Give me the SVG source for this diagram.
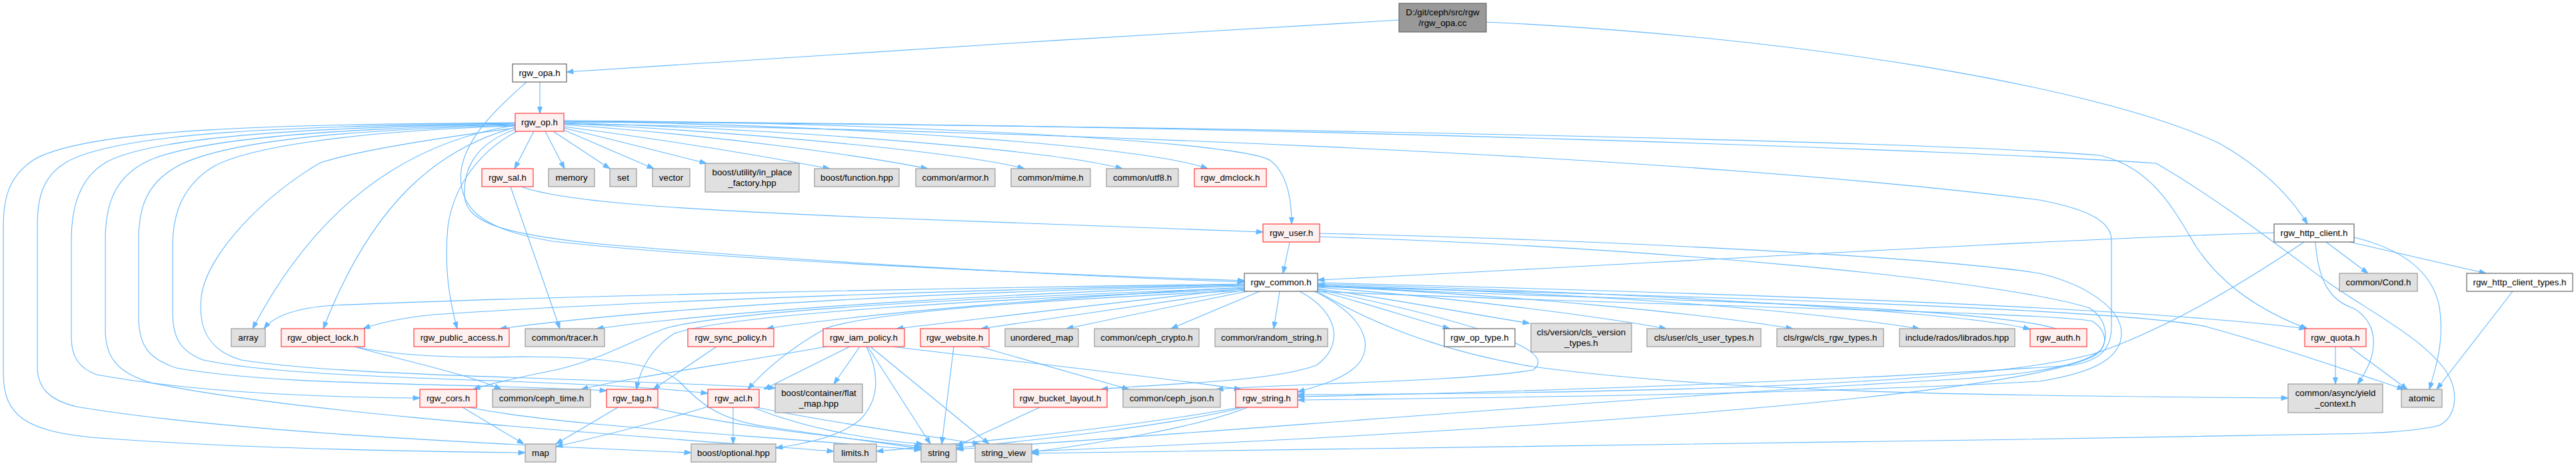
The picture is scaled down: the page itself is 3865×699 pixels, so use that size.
<svg xmlns="http://www.w3.org/2000/svg" width="3865" height="699" viewBox="0 0 3865 699">
<defs>
<marker id="ah" viewBox="0 0 11 8" refX="10.5" refY="4" markerWidth="11" markerHeight="8" markerUnits="userSpaceOnUse" orient="auto">
<path d="M0.5,0.5 L10.5,4 L0.5,7.5 z" fill="#63b8ff" stroke="#63b8ff"/>
</marker>
<style>
.e{fill:none;stroke:#63b8ff;stroke-width:1.1;marker-end:url(#ah)}
.ng rect{fill:#e0e0e0;stroke:#999999;stroke-width:1.2}
.nr rect{fill:#fff0f0;stroke:#ff3b3b;stroke-width:1.2}
.nw rect{fill:#ffffff;stroke:#666666;stroke-width:1.2}
.nroot rect{fill:#999999;stroke:#666666;stroke-width:1.2}
text{font-family:"Liberation Sans",Arial,sans-serif;font-size:13.33px;text-anchor:middle;fill:#000000}
</style>
</defs>
<rect x="0" y="0" width="3865" height="699" fill="#ffffff"/>
<g id="edges">
<path class="e" d="M2099,30 C1700,52 1200,85 850,108"/>
<path class="e" d="M2230,33 C2700,55 3150,130 3330,215 C3400,255 3440,300 3462,336"/>
<path class="e" d="M810,123 L810,170"/>
<path class="e" d="M790,123 C760,150 700,200 692,255 C686,310 720,345 830,362 C1100,392 1600,412 1867,421"/>
<path class="e" d="M801,197 L772,253"/>
<path class="e" d="M818,197 L847,253"/>
<path class="e" d="M830,197 L915,253"/>
<path class="e" d="M846,195 L981,253"/>
<path class="e" d="M846,192 C930,212 1000,230 1060,245"/>
<path class="e" d="M846,190 C1000,210 1150,235 1245,253"/>
<path class="e" d="M846,187 C1100,205 1300,235 1392,253"/>
<path class="e" d="M846,185 C1150,200 1450,230 1537,253"/>
<path class="e" d="M846,184 C1200,195 1580,225 1684,253"/>
<path class="e" d="M846,182 C1300,188 1720,220 1812,253"/>
<path class="e" d="M846,181 C1300,183 1850,210 1905,240 C1932,260 1938,300 1938,336"/>
<path class="e" d="M773,194 C715,215 695,250 697,295 C700,335 760,352 900,366 C1200,392 1600,414 1867,423"/>
<path class="e" d="M773,188 C620,212 480,300 379,493"/>
<path class="e" d="M773,191 C660,222 560,300 485,493"/>
<path class="e" d="M776,197 C720,225 680,280 672,340 C666,400 674,450 686,493"/>
<path class="e" d="M773,184 C420,187 130,192 50,240 C12,265 5,300 5,340 L5,560 C5,625 40,648 150,657 C350,672 600,677 788,679"/>
<path class="e" d="M773,185 C440,189 180,198 100,243 C62,265 56,300 56,340 L56,550 C56,580 72,600 115,610 C320,645 700,665 1037,679"/>
<path class="e" d="M773,186 C460,191 230,205 160,243 C115,268 107,320 107,360 L107,505 C107,535 118,552 145,562 C300,590 500,596 630,597"/>
<path class="e" d="M773,187 C480,193 280,210 215,245 C165,272 158,320 158,360 L158,495 C158,535 175,560 230,575 C450,620 900,650 1251,677"/>
<path class="e" d="M773,188 C500,195 330,214 265,250 C215,278 208,320 208,360 L208,475 C208,518 222,538 265,552 C420,580 700,574 910,586"/>
<path class="e" d="M773,189 C520,197 370,222 320,250 C268,282 259,330 259,370 L259,470 C259,505 270,527 305,540 C460,573 850,566 1062,590"/>
<path class="e" d="M773,192 C650,208 540,225 481,244 C400,290 310,380 302,445 C296,500 320,528 362,540 C520,565 850,565 1163,582"/>
<path class="e" d="M846,183 C1800,188 2900,212 3150,233 C3230,250 3265,320 3295,370 C3335,430 3395,468 3462,493"/>
<path class="e" d="M846,182 C1900,186 3000,228 3235,245 C3330,300 3420,370 3495,425 C3560,470 3640,510 3672,560 C3690,590 3685,625 3660,638 C3620,648 3560,650 3500,651 C2800,664 2000,674 1548,680"/>
<path class="e" d="M846,186 C1500,195 2500,230 3060,300 C3140,315 3168,335 3168,360 L3168,490 C3168,525 3150,540 3110,548 C2700,575 2200,590 1947,595"/>
<path class="e" d="M782,280 C850,305 1050,315 1300,326 C1600,338 1800,345 1895,348"/>
<path class="e" d="M766,280 L840,493"/>
<path class="e" d="M1935,363 L1925,410"/>
<path class="e" d="M1980,350 C2400,360 2900,385 3060,410 C3135,428 3183,465 3183,500 C3183,540 3135,560 3060,572 C2700,592 2200,597 1947,600"/>
<path class="e" d="M1980,355 C2500,372 3000,420 3135,462 C3160,478 3165,505 3152,525 C3120,555 3000,566 2880,572 C2400,600 1800,650 1435,674"/>
<path class="e" d="M3412,349 C3000,362 2400,400 1977,420"/>
<path class="e" d="M3490,363 L3553,410"/>
<path class="e" d="M3525,363 C3600,380 3680,398 3730,410"/>
<path class="e" d="M3532,356 C3610,375 3650,410 3660,460 C3668,510 3655,550 3645,584"/>
<path class="e" d="M3474,363 C3478,420 3495,450 3530,462 C3565,480 3575,525 3537,576"/>
<path class="e" d="M3457,363 C3350,435 3250,492 3150,528 C3000,575 2500,590 1947,592"/>
<path class="e" d="M3770,437 L3656,584"/>
<path class="e" d="M1867,426 C1400,432 800,445 500,458 C440,462 410,475 396,493"/>
<path class="e" d="M1867,427 C1400,435 900,455 650,472 C600,477 570,484 545,493"/>
<path class="e" d="M1867,428 C1400,438 1000,460 750,493"/>
<path class="e" d="M1867,429 C1500,440 1100,465 895,493"/>
<path class="e" d="M1867,431 C1600,445 1300,470 1150,493"/>
<path class="e" d="M1868,433 C1700,450 1500,475 1345,493"/>
<path class="e" d="M1870,435 C1750,452 1600,475 1472,493"/>
<path class="e" d="M1872,437 C1780,455 1700,472 1600,493"/>
<path class="e" d="M1890,437 L1757,493"/>
<path class="e" d="M1920,437 L1911,493"/>
<path class="e" d="M1977,436 C2050,455 2120,478 2175,493"/>
<path class="e" d="M1977,433 C2100,450 2200,470 2295,485"/>
<path class="e" d="M1977,431 C2200,448 2400,475 2500,493"/>
<path class="e" d="M1977,429 C2300,445 2550,470 2690,493"/>
<path class="e" d="M1977,428 C2400,440 2700,465 2880,493"/>
<path class="e" d="M1977,426 C2500,440 2960,470 3046,494"/>
<path class="e" d="M1977,424 C2600,440 3200,460 3460,493"/>
<path class="e" d="M1977,430 C2600,445 3200,465 3310,490 C3420,520 3520,555 3607,584"/>
<path class="e" d="M1976,437 C2050,480 2150,525 2300,550 C2600,590 3000,594 3433,597"/>
<path class="e" d="M1867,432 C1500,445 1100,465 1000,492 C950,510 900,540 833,555 C780,566 740,574 710,584"/>
<path class="e" d="M1869,434 C1500,448 1100,470 1012,500 C980,520 960,552 955,584"/>
<path class="e" d="M1870,436 C1500,452 1300,472 1240,492 C1190,520 1150,552 1122,584"/>
<path class="e" d="M1950,437 C2012,470 2015,520 1975,548 C1900,575 1720,576 1652,584"/>
<path class="e" d="M1972,437 C2060,480 2062,530 2028,555 C2005,572 1975,580 1947,588"/>
<path class="e" d="M1977,437 C2500,460 3080,468 3140,482 C3165,500 3162,522 3140,535 C3000,600 2200,650 1548,677"/>
<path class="e" d="M1977,434 C2150,470 2350,520 2300,555 C2200,572 1950,575 1825,584"/>
<path class="e" d="M1240,520 C1100,545 950,565 872,584"/>
<path class="e" d="M1275,520 L1146,584"/>
<path class="e" d="M1290,520 L1251,576"/>
<path class="e" d="M1300,520 C1320,560 1320,600 1290,630 C1260,655 1210,665 1164,672"/>
<path class="e" d="M1302,520 L1396,666"/>
<path class="e" d="M1306,520 L1484,666"/>
<path class="e" d="M1340,520 C1500,540 1700,560 1862,584"/>
<path class="e" d="M1431,520 L1413,666"/>
<path class="e" d="M1470,520 L1694,584"/>
<path class="e" d="M1075,520 L980,584"/>
<path class="e" d="M532,520 C600,540 700,560 752,584"/>
<path class="e" d="M532,520 C600,535 700,537 780,535 C900,535 990,545 1020,573 C1050,605 1080,630 1150,640 C1250,655 1330,665 1382,673"/>
<path class="e" d="M694,611 L786,666"/>
<path class="e" d="M703,611 C850,640 1100,650 1382,675"/>
<path class="e" d="M927,611 L834,666"/>
<path class="e" d="M978,611 C1100,640 1250,655 1382,670"/>
<path class="e" d="M1062,610 C980,635 900,655 834,670"/>
<path class="e" d="M1100,611 L1100,666"/>
<path class="e" d="M1130,611 C1200,640 1300,660 1385,666"/>
<path class="e" d="M1135,611 C1250,635 1400,655 1470,666"/>
<path class="e" d="M1560,611 L1435,669"/>
<path class="e" d="M1860,611 C1700,640 1500,660 1315,677"/>
<path class="e" d="M1866,611 C1750,640 1550,660 1435,672"/>
<path class="e" d="M1872,611 C1800,640 1650,665 1548,678"/>
<path class="e" d="M3504,520 L3504,576"/>
<path class="e" d="M3525,520 L3612,584"/>
<path class="e" d="M3085,493 C3010,470 2700,455 2400,446 C2200,440 2050,434 1977,427"/>
</g>
<g id="n_root" class="nroot"><rect x="2099" y="5" width="131" height="43"/><text x="2164.5" y="23">D:/git/ceph/src/rgw</text><text x="2164.5" y="39">/rgw_opa.cc</text></g>
<g id="n_opa_h" class="nw"><rect x="769" y="96" width="81" height="27"/><text x="809.5" y="114">rgw_opa.h</text></g>
<g id="n_op_h" class="nr"><rect x="773" y="170" width="73" height="27"/><text x="809.5" y="188">rgw_op.h</text></g>
<g id="n_sal" class="nr"><rect x="723" y="253" width="77" height="27"/><text x="761.5" y="271">rgw_sal.h</text></g>
<g id="n_memory" class="ng"><rect x="823" y="253" width="69" height="27"/><text x="857.5" y="271">memory</text></g>
<g id="n_set" class="ng"><rect x="915" y="253" width="40" height="27"/><text x="935" y="271">set</text></g>
<g id="n_vector" class="ng"><rect x="979" y="253" width="56" height="27"/><text x="1007" y="271">vector</text></g>
<g id="n_inplace" class="ng"><rect x="1058" y="245" width="141" height="43"/><text x="1128.5" y="263">boost/utility/in_place</text><text x="1128.5" y="279">_factory.hpp</text></g>
<g id="n_function" class="ng"><rect x="1222" y="253" width="127" height="27"/><text x="1285.5" y="271">boost/function.hpp</text></g>
<g id="n_armor" class="ng"><rect x="1374" y="253" width="119" height="27"/><text x="1433.5" y="271">common/armor.h</text></g>
<g id="n_mime" class="ng"><rect x="1517" y="253" width="119" height="27"/><text x="1576.5" y="271">common/mime.h</text></g>
<g id="n_utf8" class="ng"><rect x="1660" y="253" width="108" height="27"/><text x="1714" y="271">common/utf8.h</text></g>
<g id="n_dmclock" class="nr"><rect x="1792" y="253" width="108" height="27"/><text x="1846" y="271">rgw_dmclock.h</text></g>
<g id="n_user" class="nr"><rect x="1895" y="336" width="85" height="27"/><text x="1937.5" y="354">rgw_user.h</text></g>
<g id="n_http" class="nw"><rect x="3412" y="336" width="120" height="27"/><text x="3472" y="354">rgw_http_client.h</text></g>
<g id="n_common" class="nw"><rect x="1867" y="410" width="110" height="27"/><text x="1922" y="428">rgw_common.h</text></g>
<g id="n_cond" class="ng"><rect x="3510" y="410" width="117" height="27"/><text x="3568.5" y="428">common/Cond.h</text></g>
<g id="n_httptypes" class="nw"><rect x="3701" y="410" width="159" height="27"/><text x="3780.5" y="428">rgw_http_client_types.h</text></g>
<g id="n_array" class="ng"><rect x="347" y="493" width="51" height="27"/><text x="372.5" y="511">array</text></g>
<g id="n_objlock" class="nr"><rect x="422" y="493" width="125" height="27"/><text x="484.5" y="511">rgw_object_lock.h</text></g>
<g id="n_pubacc" class="nr"><rect x="621" y="493" width="143" height="27"/><text x="692.5" y="511">rgw_public_access.h</text></g>
<g id="n_tracer" class="ng"><rect x="788" y="493" width="119" height="27"/><text x="847.5" y="511">common/tracer.h</text></g>
<g id="n_sync" class="nr"><rect x="1032" y="493" width="129" height="27"/><text x="1096.5" y="511">rgw_sync_policy.h</text></g>
<g id="n_iam" class="nr"><rect x="1235" y="493" width="122" height="27"/><text x="1296" y="511">rgw_iam_policy.h</text></g>
<g id="n_website" class="nr"><rect x="1381" y="493" width="103" height="27"/><text x="1432.5" y="511">rgw_website.h</text></g>
<g id="n_umap" class="ng"><rect x="1508" y="493" width="110" height="27"/><text x="1563" y="511">unordered_map</text></g>
<g id="n_crypto" class="ng"><rect x="1642" y="493" width="157" height="27"/><text x="1720.5" y="511">common/ceph_crypto.h</text></g>
<g id="n_randstr" class="ng"><rect x="1823" y="493" width="169" height="27"/><text x="1907.5" y="511">common/random_string.h</text></g>
<g id="n_optype" class="nw"><rect x="2167" y="493" width="106" height="27"/><text x="2220" y="511">rgw_op_type.h</text></g>
<g id="n_clsver" class="ng"><rect x="2297" y="485" width="151" height="43"/><text x="2372.5" y="503">cls/version/cls_version</text><text x="2372.5" y="519">_types.h</text></g>
<g id="n_clsuser" class="ng"><rect x="2471" y="493" width="171" height="27"/><text x="2556.5" y="511">cls/user/cls_user_types.h</text></g>
<g id="n_clsrgw" class="ng"><rect x="2666" y="493" width="160" height="27"/><text x="2746" y="511">cls/rgw/cls_rgw_types.h</text></g>
<g id="n_librados" class="ng"><rect x="2850" y="493" width="173" height="27"/><text x="2936.5" y="511">include/rados/librados.hpp</text></g>
<g id="n_auth" class="nr"><rect x="3046" y="493" width="85" height="27"/><text x="3088.5" y="511">rgw_auth.h</text></g>
<g id="n_quota" class="nr"><rect x="3458" y="493" width="92" height="27"/><text x="3504" y="511">rgw_quota.h</text></g>
<g id="n_cors" class="nr"><rect x="630" y="584" width="85" height="27"/><text x="672.5" y="602">rgw_cors.h</text></g>
<g id="n_cephtime" class="ng"><rect x="739" y="584" width="147" height="27"/><text x="812.5" y="602">common/ceph_time.h</text></g>
<g id="n_tag" class="nr"><rect x="910" y="584" width="77" height="27"/><text x="948.5" y="602">rgw_tag.h</text></g>
<g id="n_acl" class="nr"><rect x="1062" y="584" width="77" height="27"/><text x="1100.5" y="602">rgw_acl.h</text></g>
<g id="n_flatmap" class="ng"><rect x="1163" y="576" width="131" height="43"/><text x="1228.5" y="594">boost/container/flat</text><text x="1228.5" y="610">_map.hpp</text></g>
<g id="n_bucket" class="nr"><rect x="1521" y="584" width="140" height="27"/><text x="1591" y="602">rgw_bucket_layout.h</text></g>
<g id="n_json" class="ng"><rect x="1685" y="584" width="146" height="27"/><text x="1758" y="602">common/ceph_json.h</text></g>
<g id="n_rstring" class="nr"><rect x="1854" y="584" width="93" height="27"/><text x="1900.5" y="602">rgw_string.h</text></g>
<g id="n_yield" class="ng"><rect x="3433" y="576" width="142" height="43"/><text x="3504" y="594">common/async/yield</text><text x="3504" y="610">_context.h</text></g>
<g id="n_atomic" class="ng"><rect x="3603" y="584" width="61" height="27"/><text x="3633.5" y="602">atomic</text></g>
<g id="n_map" class="ng"><rect x="788" y="666" width="46" height="27"/><text x="811" y="684">map</text></g>
<g id="n_optional" class="ng"><rect x="1037" y="666" width="127" height="27"/><text x="1100.5" y="684">boost/optional.hpp</text></g>
<g id="n_limits" class="ng"><rect x="1251" y="666" width="64" height="27"/><text x="1283" y="684">limits.h</text></g>
<g id="n_string" class="ng"><rect x="1382" y="666" width="53" height="27"/><text x="1408.5" y="684">string</text></g>
<g id="n_sview" class="ng"><rect x="1463" y="666" width="85" height="27"/><text x="1505.5" y="684">string_view</text></g>
</svg>
